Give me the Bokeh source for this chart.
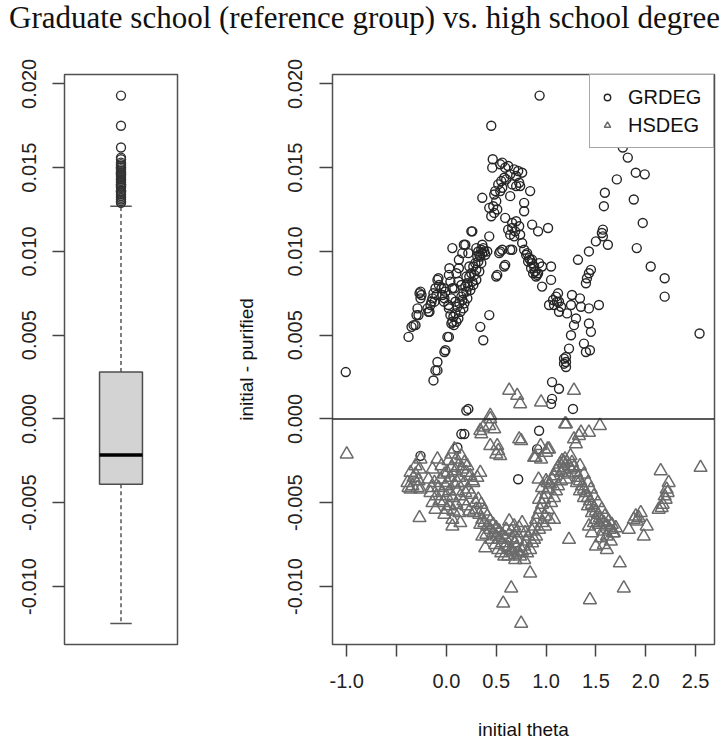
from bokeh.plotting import figure
from bokeh.models import Range1d, FixedTicker, NumeralTickFormatter, Span
from bokeh.layouts import column, row
from bokeh.embed import file_html
from bokeh.resources import INLINE
from bokeh.core.properties import value

title_text = "Graduate school (reference group) vs. high school degree"
x_label = "initial theta"
y_label = "initial - purified"
x_ticks = [-1.0, -0.5, 0.0, 0.5, 1.0, 1.5, 2.0, 2.5]
x_hidden_labels = [-0.5]
y_ticks = [-0.010, -0.005, 0.000, 0.005, 0.010, 0.015, 0.020]
series_names = ["GRDEG", "HSDEG"]

grdeg_theta = [
    -1.01, 0.935, 0.45, 2.54, 1.82, 1.77, 1.71, 1.90, 1.99, 1.59,
    1.58, 1.88, 1.97, 1.91, 2.05, 2.19, 2.19, 1.57, 1.56, 1.57,
    1.50, 1.62, 1.43, 1.32, 1.45, 1.43, 1.41, 1.40, 1.53, 1.43,
    1.43, 1.45, 1.38, 1.40, 1.44, 1.26, 1.34, 1.35, 1.25, 1.30,
    1.28, 1.25, 1.23, 1.20, 1.20, 1.20, 1.06, 1.13, 1.06, 1.05,
    1.27, 0.22, 0.20, 1.21, 1.13, 1.03, 1.10, 1.13, 1.15, 1.08,
    0.96, 1.05, 1.05, 0.78, 0.80, 0.83, 0.84, 0.86, 0.88, 0.89,
    0.91, 0.93, 0.96, 0.82, 0.85, 0.87, 0.90, 0.81, 0.86, 0.92,
    0.66, 0.54, 0.58, 0.51, 0.43, 0.34, 0.37, 0.43, 0.465, 0.46,
    0.54, 0.59, 0.68, 0.76, 0.58, 0.64, 0.73, 0.74, 0.70, 0.56,
    0.48, 0.36, 0.54, 0.64, 0.78, 0.84, 0.43, 0.48, 0.45, 0.78,
    0.59, 0.66, 0.73, 0.69, 0.64, 0.68, 0.74, 0.86, 0.92, 1.02,
    0.76, 0.64, 0.56, 0.53, 0.59, 0.50, 0.26, 0.49, 0.52, 0.55,
    0.60, 0.66, 0.70, 0.62, 0.50, 0.47, 0.51, 0.66, 0.70, 0.62,
    0.72, 0.56, 1.18, 1.18, 1.11, 1.12, 1.07, -0.38, -0.35, -0.31,
    -0.30, -0.29, -0.26, -0.25, -0.26, -0.27, -0.33, -0.28, -0.18, -0.16,
    -0.14, -0.13, -0.11, -0.08, -0.075, -0.04, -0.025, -0.01, 0.025, 0.04,
    0.06, 0.03, 0.125, 0.06, 0.16, 0.175, 0.025, 0.04, 0.06, 0.075,
    0.025, -0.01, -0.09, -0.11, -0.13, -0.17, -0.15, -0.09, -0.025, 0.125,
    0.19, 0.22, 0.25, 0.01, -0.02, -0.09, 0.05, 0.07, 0.09, 0.11,
    0.13, 0.15, 0.17, 0.19, 0.21, 0.23, 0.25, 0.27, 0.29, 0.31,
    0.33, 0.35, 0.37, 0.16, 0.18, 0.20, 0.22, 0.24, 0.21, 0.17,
    0.14, 0.12, 0.10, 0.26, 0.28, 0.30, 0.32, 0.34, 0.36, 0.38,
    0.35, 0.30, 0.27, 0.23, 0.20, 0.15, 0.12, 0.08, 0.09, 0.05,
    0.02, -0.02, -0.05, -0.10, -0.12, -0.19, 0.10, 0.32, 0.30, 0.36,
    0.39, 0.33, 0.93, 0.91, 0.72, 0.18, 0.15, 0.11, -0.26, 0.41,
]
grdeg_diff = [
    0.0028, 0.0193, 0.0175, 0.0051, 0.0156, 0.0162, 0.0143, 0.0147, 0.0146, 0.0135,
    0.0127, 0.0131, 0.0117, 0.0102, 0.0091, 0.0084, 0.0073, 0.0113, 0.0111, 0.0109,
    0.0106, 0.0104, 0.0100, 0.0095, 0.0089, 0.0087, 0.0084, 0.0081, 0.0068, 0.0066,
    0.0057, 0.0052, 0.0045, 0.0040, 0.0041, 0.0074, 0.0072, 0.0067, 0.0068, 0.0060,
    0.0056, 0.0050, 0.0042, 0.0037, 0.0034, 0.0031, 0.0022, 0.0018, 0.0012, 0.0009,
    0.0006, 0.0006, 0.0005, 0.0063, 0.0064, 0.0068, 0.0073, 0.0070, 0.0067, 0.0068,
    0.0079, 0.0083, 0.0091, 0.0101, 0.0098, 0.0096, 0.0095, 0.0093, 0.0091, 0.0088,
    0.0086, 0.0093, 0.0091, 0.0094, 0.0090, 0.0087, 0.0085, 0.0099, 0.0095, 0.0087,
    0.0101, 0.0100, 0.0091, 0.0086, 0.0062, 0.0055, 0.0047, 0.0109, 0.0155, 0.0150,
    0.0152, 0.0150, 0.0149, 0.0147, 0.0144, 0.0146, 0.0141, 0.0139, 0.0139, 0.0138,
    0.0134, 0.0132, 0.0136, 0.0133, 0.0129, 0.0136, 0.0126, 0.0123, 0.0121, 0.0124,
    0.0120, 0.0117, 0.0115, 0.0112, 0.0110, 0.0109, 0.0110, 0.0116, 0.0112, 0.0114,
    0.0105, 0.0101, 0.0101, 0.0099, 0.0092, 0.0085, 0.0112, 0.0136, 0.0140, 0.0142,
    0.0143, 0.0140, 0.0145, 0.0151, 0.0130, 0.0127, 0.0125, 0.0114, 0.0118, 0.0113,
    0.0148, 0.0153, 0.0036, 0.0033, 0.0070, 0.0075, 0.0071, 0.0049, 0.0055, 0.0056,
    0.0062, 0.0066, 0.0076, 0.0074, 0.0072, 0.0075, 0.0056, 0.0062, 0.0064, 0.0068,
    0.0072, 0.0075, 0.0078, 0.0084, 0.0080, 0.0074, 0.0070, 0.0076, 0.0086, 0.0082,
    0.0078, 0.0090, 0.0095, 0.0102, 0.0099, 0.0104, 0.0066, 0.0062, 0.0058, 0.0056,
    0.0049, 0.0041, 0.0034, 0.0029, 0.0023, 0.0064, 0.0070, 0.0083, 0.0078, 0.0090,
    0.0104, 0.0099, 0.0112, 0.0049, 0.0040, 0.0029, 0.0057, 0.0061, 0.0063, 0.0067,
    0.0069, 0.0073, 0.0075, 0.0079, 0.0081, 0.0085, 0.0087, 0.0091, 0.0093, 0.0097,
    0.0098, 0.0101, 0.0102, 0.0071, 0.0069, 0.0076, 0.0079, 0.0077, 0.0072, 0.0066,
    0.0064, 0.0060, 0.0058, 0.0082, 0.0086, 0.0089, 0.0094, 0.0097, 0.0099, 0.0100,
    0.0093, 0.0083, 0.0080, 0.0091, 0.0085, 0.0080, 0.0082, 0.0078, 0.0070, 0.0072,
    0.0068, 0.0072, 0.0078, 0.0074, 0.0070, 0.0066, 0.0087, 0.0100, 0.0102, 0.0104,
    0.0098, 0.0088, -0.0007, -0.0018, -0.0036, -0.0009, -0.0009, -0.0017, -0.0022, 0.0100,
]

hsdeg_theta = [
    -1.00, 2.55, 2.15, 2.23, 2.22, 2.20, 2.17, 2.13, 2.19, 2.21,
    2.16, 1.90, 1.93, 1.95, 1.88, 1.91, 2.01, 1.83, 1.98, 1.78,
    1.74, 1.44, 1.65, 1.61, 1.50, 1.48, 1.68, 1.23, 1.08, 1.20,
    1.54, 1.43, 0.84, 0.78, 0.69, 0.65, 0.57, 0.75, 0.39, 0.36,
    -0.27, 0.06, 0.14, 0.31, 0.63, 0.71, 0.74, 0.95, 1.28, 0.44,
    0.44, 0.43, 0.34, 0.35, 0.37, 0.51, 0.52, 0.50, 0.73, 0.75,
    0.88, 1.03, 0.95, 1.00, 1.19, 1.28, 1.30, 1.33, 1.35, -0.36,
    -0.39, -0.34, -0.29, -0.31, -0.26, -0.26, -0.33, -0.28, -0.38, -0.31,
    -0.36, -0.27, -0.09, -0.14, -0.18, -0.16, -0.14, -0.11, -0.05, -0.02,
    0.01, 0.03, 0.06, -0.06, -0.08, -0.10, -0.03, 0.00, 0.03, 0.05,
    0.08, 0.10, 0.12, 0.15, 0.18, 0.20, 0.13, 0.09, 0.05, 0.02,
    -0.01, -0.04, 0.08, 0.11, 0.14, 0.17, 0.20, 0.23, 0.10, 0.07,
    0.13, 0.18, 0.22, 0.25, 0.26, 0.29, 0.27, -0.12, -0.15, -0.07,
    0.00, 0.04, 0.16, 0.21, 0.24, 0.11, -0.02, 0.06, 0.01, 0.19,
    0.30, 0.33, 0.36, 0.38, 0.41, 0.44, 0.47, 0.50, 0.53, 0.56,
    0.59, 0.62, 0.65, 0.32, 0.35, 0.38, 0.41, 0.44, 0.47, 0.50,
    0.53, 0.56, 0.59, 0.60, 0.45, 0.49, 0.52, 0.55, 0.58, 0.62,
    0.40, 0.34, 0.66, 0.68, 0.70, 0.72, 0.74, 0.76, 0.78, 0.80,
    0.82, 0.70, 0.73, 0.76, 0.68, 0.65, 0.63, 0.79, 0.84, 0.86,
    0.71, 0.66, 0.69, 0.81, 0.86, 0.88, 0.90, 0.92, 0.94, 0.96,
    0.98, 1.00, 1.02, 1.04, 1.06, 1.08, 1.10, 1.12, 1.14, 0.90,
    0.93, 0.96, 0.99, 1.02, 1.05, 1.08, 1.10, 1.12, 1.15, 0.88,
    0.99, 1.03, 0.93, 1.00, 0.96, 1.16, 1.19, 1.21, 1.23, 1.25,
    1.18, 1.22, 1.26, 1.28, 1.20, 1.15, 1.30, 1.32, 1.34, 1.36,
    1.38, 1.40, 1.42, 1.44, 1.46, 1.48, 1.50, 1.52, 1.54, 1.56,
    1.58, 1.61, 1.64, 1.67, 1.70, 1.31, 1.34, 1.38, 1.42, 1.46,
    1.50, 1.53, 1.57, 1.61, 1.34, 1.38, 1.42, 1.45, 1.48, 1.52,
    1.56, 1.59, 1.63, 1.66, 1.43, 1.46, 1.55, 1.58, 1.245, 1.18,
    1.015, 0.925, 0.945, 1.015, 0.895, 0.44, 0.54, 0.34, 0.27, 0.48,
]
hsdeg_diff = [
    -0.0021, -0.0029, -0.0031, -0.0038, -0.0044, -0.0048, -0.0051, -0.0054, -0.0046, -0.0042,
    -0.0053, -0.0058, -0.0059, -0.0056, -0.0060, -0.0061, -0.0064, -0.0066, -0.0070, -0.0101,
    -0.0086, -0.0108, -0.0073, -0.0078, -0.0076, -0.0062, -0.0068, -0.0072, -0.0060, -0.0003,
    -0.0004, -0.0008, -0.0092, -0.0084, -0.0084, -0.0101, -0.0110, -0.0122, -0.0077, -0.0070,
    -0.0059, -0.0064, -0.0062, -0.0035, 0.0017, 0.0014, 0.0009, 0.0010, 0.0017, 0.0002,
    0.0000, -0.0004, -0.0007, -0.0009, -0.0005, -0.0016, -0.0019, -0.0021, -0.0012, -0.0013,
    -0.0023, -0.0018, -0.0024, -0.0020, -0.0003, -0.0012, -0.0015, -0.0010, -0.0008, -0.0032,
    -0.0038, -0.0040, -0.0041, -0.0028, -0.0024, -0.0042, -0.0035, -0.0037, -0.0041, -0.0033,
    -0.0042, -0.0030, -0.0024, -0.0030, -0.0036, -0.0044, -0.0050, -0.0054, -0.0028, -0.0033,
    -0.0038, -0.0043, -0.0047, -0.0036, -0.0041, -0.0046, -0.0050, -0.0054, -0.0052, -0.0021,
    -0.0018, -0.0024, -0.0028, -0.0022, -0.0026, -0.0032, -0.0035, -0.0031, -0.0029, -0.0025,
    -0.0040, -0.0044, -0.0039, -0.0043, -0.0046, -0.0049, -0.0052, -0.0055, -0.0051, -0.0055,
    -0.0056, -0.0038, -0.0042, -0.0045, -0.0037, -0.0050, -0.0056, -0.0038, -0.0041, -0.0049,
    -0.0046, -0.0035, -0.0030, -0.0028, -0.0034, -0.0038, -0.0057, -0.0060, -0.0032, -0.0044,
    -0.0054, -0.0057, -0.0060, -0.0062, -0.0064, -0.0066, -0.0068, -0.0070, -0.0072, -0.0074,
    -0.0076, -0.0077, -0.0078, -0.0048, -0.0051, -0.0055, -0.0058, -0.0061, -0.0063, -0.0065,
    -0.0067, -0.0069, -0.0071, -0.0066, -0.0072, -0.0075, -0.0078, -0.0080, -0.0082, -0.0082,
    -0.0069, -0.0063, -0.0071, -0.0074, -0.0077, -0.0080, -0.0082, -0.0079, -0.0076, -0.0073,
    -0.0070, -0.0068, -0.0065, -0.0062, -0.0064, -0.0067, -0.0061, -0.0068, -0.0078, -0.0074,
    -0.0072, -0.0079, -0.0081, -0.0080, -0.0067, -0.0064, -0.0060, -0.0057, -0.0054, -0.0051,
    -0.0048, -0.0045, -0.0042, -0.0039, -0.0036, -0.0034, -0.0031, -0.0029, -0.0027, -0.0070,
    -0.0066, -0.0062, -0.0058, -0.0054, -0.0050, -0.0047, -0.0043, -0.0040, -0.0037, -0.0072,
    -0.0064, -0.0060, -0.0048, -0.0037, -0.0041, -0.0025, -0.0024, -0.0026, -0.0028, -0.0030,
    -0.0030, -0.0033, -0.0026, -0.0029, -0.0036, -0.0032, -0.0032, -0.0035, -0.0037, -0.0040,
    -0.0042, -0.0044, -0.0047, -0.0049, -0.0051, -0.0053, -0.0055, -0.0057, -0.0059, -0.0061,
    -0.0062, -0.0064, -0.0066, -0.0068, -0.0065, -0.0038, -0.0043, -0.0047, -0.0052, -0.0056,
    -0.0060, -0.0063, -0.0067, -0.0070, -0.0028, -0.0033, -0.0038, -0.0042, -0.0046, -0.0050,
    -0.0054, -0.0058, -0.0061, -0.0063, -0.0064, -0.0068, -0.0071, -0.0075, -0.0022, -0.0026,
    -0.0038, -0.0036, -0.0016, -0.0018, -0.0023, -0.0016, -0.0022, -0.0032, -0.0038, -0.0006,
]

# boxplot statistics
box_q1 = -0.0039
box_median = -0.00215
box_q3 = 0.0028
whisker_low = -0.0122
whisker_high = 0.0127

all_diff = grdeg_diff + hsdeg_diff
outliers = [v for v in all_diff if v > whisker_high or v < whisker_low]

Y_RANGE = (-0.01346, 0.02056)
X_RANGE = (-1.143, 2.690)

SANS = "Liberation Sans"
FRAME_COLOR = "#505050"


def style_axis(ax, tick_out):
    ax.axis_line_color = None
    ax.major_tick_line_color = "#444444"
    ax.major_tick_line_width = 1.5
    ax.major_tick_out = tick_out
    ax.major_tick_in = 0
    ax.minor_tick_line_color = None
    ax.major_label_text_font = SANS
    ax.major_label_text_font_size = "20px"
    ax.major_label_text_color = "#222222"
    ax.axis_label_text_font = SANS
    ax.axis_label_text_font_size = "19px"
    ax.axis_label_text_font_style = "normal"
    ax.axis_label_text_color = "#111111"


# ---------- title ----------
pt = figure(width=720, height=44, x_range=Range1d(0, 720), y_range=Range1d(0, 44),
            x_axis_type=None, y_axis_type=None, toolbar_location=None,
            output_backend="svg", min_border=0, outline_line_color=None)
pt.text(x=[364], y=[27], text=[title_text], text_font=value("Liberation Serif"),
        text_font_size="31px", text_align="center", text_baseline="middle",
        text_color="#111111")

# ---------- left boxplot ----------
pl = figure(width=232, height=698, x_range=Range1d(0.5, 1.5), y_range=Range1d(*Y_RANGE),
            x_axis_type=None, toolbar_location=None, output_backend="svg",
            min_border_left=64, min_border_right=55, min_border_top=30, min_border_bottom=93)
pl.grid.visible = False
pl.outline_line_color = FRAME_COLOR
pl.outline_line_width = 1.5
yl = pl.yaxis[0]
yl.ticker = FixedTicker(ticks=y_ticks)
yl.formatter = NumeralTickFormatter(format="0.000")
yl.major_label_orientation = "parallel"
style_axis(yl, 12)
yl.major_label_standoff = 16

pl.segment(x0=[1, 1], x1=[1, 1], y0=[box_q3, box_q1], y1=[whisker_high, whisker_low],
           line_color="#555555", line_width=1.5, line_dash="4 3")
pl.segment(x0=[0.905, 0.905], x1=[1.095, 1.095], y0=[whisker_high, whisker_low],
           y1=[whisker_high, whisker_low], line_color="#555555", line_width=1.5)
pl.quad(left=[0.81], right=[1.19], bottom=[box_q1], top=[box_q3],
        fill_color="#d3d3d3", line_color="#4d4d4d", line_width=1.5)
pl.segment(x0=[0.81], x1=[1.19], y0=[box_median], y1=[box_median],
           line_color="#000000", line_width=3.5)
pl.scatter(x=[1] * len(outliers), y=outliers, marker="circle", size=9,
           fill_color=None, line_color="#333333", line_width=1.4)

# ---------- right scatter ----------
pr = figure(width=488, height=698, x_range=Range1d(*X_RANGE), y_range=Range1d(*Y_RANGE),
            toolbar_location=None, output_backend="svg",
            min_border_left=100, min_border_right=6, min_border_top=30, min_border_bottom=93)
pr.grid.visible = False
pr.outline_line_color = FRAME_COLOR
pr.outline_line_width = 1.5

xr = pr.xaxis[0]
xr.ticker = FixedTicker(ticks=x_ticks)
xr.formatter = NumeralTickFormatter(format="0.0")
xr.major_label_overrides = {t: "" for t in x_hidden_labels}
style_axis(xr, 12)
xr.major_label_standoff = 17
xr.axis_label = x_label
xr.axis_label_standoff = 28

yr = pr.yaxis[0]
yr.ticker = FixedTicker(ticks=y_ticks)
yr.formatter = NumeralTickFormatter(format="0.000")
yr.major_label_orientation = "parallel"
style_axis(yr, 13)
yr.major_label_standoff = 17
yr.axis_label = y_label
yr.axis_label_standoff = 29

pr.add_layout(Span(location=0, dimension="width", line_color="#222222", line_width=1.5))

pr.scatter(grdeg_theta, grdeg_diff, marker="circle", size=9, fill_color=None,
           line_color="#262626", line_width=1.4, legend_label=series_names[0])
pr.scatter(hsdeg_theta, hsdeg_diff, marker="triangle", size=13, fill_color=None,
           line_color="#6b6b6b", line_width=1.5, legend_label=series_names[1])

lg = pr.legend[0]
lg.location = "top_right"
lg.margin = 0
lg.padding = 9
lg.spacing = 2
lg.glyph_width = 16
lg.glyph_height = 26
lg.label_height = 26
lg.label_width = 76
lg.label_standoff = 13
lg.label_text_font = SANS
lg.label_text_font_size = "20px"
lg.label_text_color = "#111111"
lg.border_line_color = FRAME_COLOR
lg.border_line_width = 1.5
lg.background_fill_alpha = 1.0

layout = column(pt, row(pl, pr))
open("out.html", "w").write(file_html(layout, INLINE))
